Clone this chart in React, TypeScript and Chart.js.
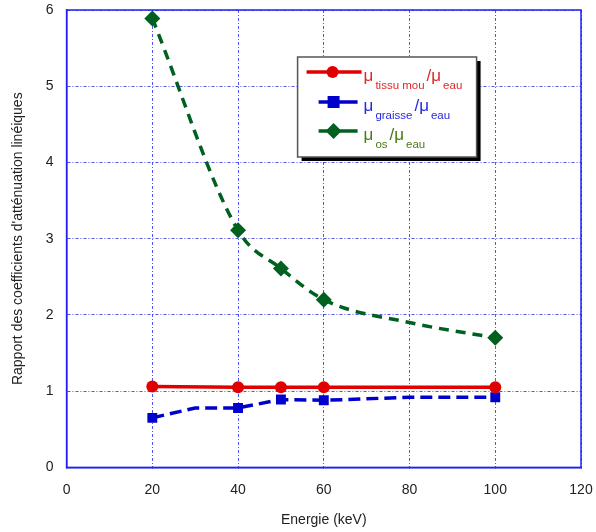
import React, { useEffect, useRef } from "react";
import { Chart, registerables } from "chart.js";
Chart.register(...registerables);

const tissuX = [20, 40, 50, 60, 100];
const tissuY = [1.06, 1.05, 1.05, 1.05, 1.05];
const tissuMarked = [true, true, true, true, true];

const graisseX = [20, 30, 40, 50, 60, 80, 100];
const graisseY = [0.65, 0.78, 0.78, 0.89, 0.88, 0.92, 0.92];
const graisseMarked = [true, false, true, true, true, false, true];

const osX = [20, 40, 50, 60, 80, 100];
const osY = [5.89, 3.11, 2.61, 2.2, 1.9, 1.7];
const osMarked = [true, true, true, true, false, true];

const xTicks = [0, 20, 40, 60, 80, 100, 120];
const yTicks = [0, 1, 2, 3, 4, 5, 6];

const legendItems = [
  { sub1: "tissu mou", color: "#e00000", text: "#e02828" },
  { sub1: "graisse", color: "#0000cc", text: "#2828e0" },
  { sub1: "os", color: "#006020", text: "#4a7a10" },
];

const FONT = "'Liberation Sans', Arial, sans-serif";

const pts = (xs: number[], ys: number[]) => xs.map((x, i) => ({ x, y: ys[i] }));

const overlay = {
  id: "overlay",
  afterDraw(chart: any) {
    const ctx = chart.ctx as CanvasRenderingContext2D;
    const ca = chart.chartArea;
    ctx.save();
    ctx.strokeStyle = "#2020f0";
    ctx.lineWidth = 1.5;
    ctx.setLineDash([]);
    ctx.strokeRect(ca.left, ca.top, ca.right - ca.left, ca.bottom - ca.top);

    // legend box
    const lx = ca.left + 231;
    const ly = ca.top + 47;
    const w = 179;
    const h = 100;
    ctx.fillStyle = "#000";
    ctx.fillRect(lx + 4, ly + 4, w, h);
    ctx.fillStyle = "#fff";
    ctx.fillRect(lx, ly, w, h);
    ctx.strokeStyle = "#555";
    ctx.lineWidth = 1.5;
    ctx.strokeRect(lx, ly, w, h);

    const rowsY = [ly + 15, ly + 45, ly + 74];
    legendItems.forEach((it, i) => {
      const y = rowsY[i];
      const x0 = i === 0 ? lx + 9 : lx + 21;
      const x1 = i === 0 ? lx + 64 : lx + 60;
      const mx = i === 0 ? lx + 35 : lx + 36;
      ctx.strokeStyle = it.color;
      ctx.fillStyle = it.color;
      ctx.lineWidth = 3.5;
      ctx.beginPath();
      ctx.moveTo(x0, y);
      ctx.lineTo(x1, y);
      ctx.stroke();
      ctx.beginPath();
      if (i === 0) {
        ctx.arc(mx, y, 6, 0, Math.PI * 2);
      } else if (i === 1) {
        ctx.rect(mx - 6, y - 6, 12, 12);
      } else {
        ctx.moveTo(mx, y - 8);
        ctx.lineTo(mx + 8, y);
        ctx.lineTo(mx, y + 8);
        ctx.lineTo(mx - 8, y);
        ctx.closePath();
      }
      ctx.fill();

      // text
      ctx.fillStyle = it.text;
      ctx.textBaseline = "alphabetic";
      ctx.textAlign = "left";
      let tx = lx + 66;
      const base = y + 9;
      ctx.font = `17px ${FONT}`;
      ctx.fillText("\u03bc", tx, base);
      tx += ctx.measureText("\u03bc").width + 2;
      ctx.font = `11.5px ${FONT}`;
      ctx.fillText(it.sub1, tx, base + 8);
      tx += ctx.measureText(it.sub1).width + 2;
      ctx.font = `17px ${FONT}`;
      ctx.fillText("/\u03bc", tx, base);
      tx += ctx.measureText("/\u03bc").width + 2;
      ctx.font = `11.5px ${FONT}`;
      ctx.fillText("eau", tx, base + 8);
    });
    ctx.restore();
  },
};

export default function App() {
  const ref = useRef<HTMLCanvasElement>(null);
  useEffect(() => {
    if (!ref.current) return;
    const chart = new Chart(ref.current, {
      type: "scatter",
      data: {
        datasets: [
          {
            label: "tissu mou",
            data: pts(tissuX, tissuY),
            showLine: true,
            borderColor: "#e00000",
            backgroundColor: "#e00000",
            borderWidth: 3.5,
            pointStyle: "circle",
            pointRadius: tissuMarked.map((m) => (m ? 6 : 0)),
            pointBorderWidth: 0,
          },
          {
            label: "graisse",
            data: pts(graisseX, graisseY),
            showLine: true,
            borderColor: "#0000cc",
            backgroundColor: "#0000cc",
            borderWidth: 3.5,
            borderDash: [12, 6],
            pointStyle: "rect",
            pointRadius: graisseMarked.map((m) => (m ? 7 : 0)),
            pointBorderWidth: 0,
          },
          {
            label: "os",
            data: pts(osX, osY),
            showLine: true,
            borderColor: "#006020",
            backgroundColor: "#006020",
            borderWidth: 3.5,
            borderDash: [10, 7],
            cubicInterpolationMode: "monotone",
            pointStyle: "rectRot",
            pointRadius: osMarked.map((m) => (m ? 8 : 0)),
            pointBorderWidth: 0,
          },
        ],
      },
      options: {
        animation: false,
        responsive: false,
        plugins: { legend: { display: false }, tooltip: { enabled: false } },
        layout: { padding: { top: 10, right: 15, left: 10, bottom: 3 } },
        scales: {
          x: {
            type: "linear",
            min: 0,
            max: 120,
            afterBuildTicks: (s: any) => {
              s.ticks = xTicks.map((v) => ({ value: v }));
            },
            afterFit: (s: any) => {
              s.paddingLeft = 0;
              s.paddingRight = 0;
            },
            ticks: { color: "#222", font: { family: FONT, size: 14 }, padding: 14 },
            grid: { color: "rgba(40,40,240,0.8)", lineWidth: 1, tickLength: 0 },
            border: { color: "#2020f0", width: 1.5, dash: [3, 2, 1, 2] },
            title: {
              display: true,
              text: "Energie (keV)",
              color: "#222",
              font: { family: FONT, size: 14 },
              padding: { top: 0, bottom: 0 },
            },
          },
          y: {
            type: "linear",
            min: 0,
            max: 6,
            afterBuildTicks: (s: any) => {
              s.ticks = yTicks.map((v) => ({ value: v }));
            },
            afterFit: (s: any) => {
              s.paddingTop = 0;
              s.paddingBottom = 0;
            },
            ticks: { color: "#222", font: { family: FONT, size: 14 }, padding: 13 },
            grid: { color: "rgba(40,40,240,0.8)", lineWidth: 1, tickLength: 0 },
            border: { color: "#2020f0", width: 1.5, dash: [3, 2, 1, 2] },
            title: {
              display: true,
              text: "Rapport des coefficients d'atténuation linéiques",
              color: "#222",
              font: { family: FONT, size: 14 },
              padding: { top: 0, bottom: 6 },
            },
          },
        },
      },
      plugins: [overlay],
    } as any);
    return () => chart.destroy();
  }, []);
  return (
    <div style={{ position: "absolute", left: 0, top: 0, width: 596, height: 532, overflow: "hidden" }}>
      <canvas ref={ref} width={596} height={532} style={{ display: "block" }} />
    </div>
  );
}
